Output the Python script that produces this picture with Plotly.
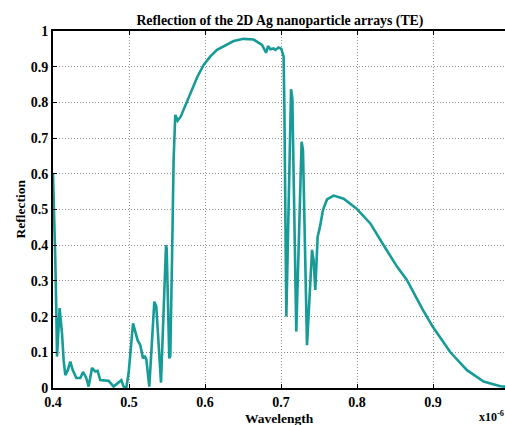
import plotly.graph_objects as go

# Wavelength in units of 1e-6 m
wavelength = [
    0.400, 0.4017, 0.4030, 0.4043, 0.4053, 0.4087, 0.4118, 0.4140, 0.4162, 0.4195,
    0.4228, 0.4260, 0.4307, 0.4360, 0.4395, 0.4438, 0.4469, 0.4513, 0.4557, 0.4587,
    0.4622, 0.4732, 0.4797, 0.4899, 0.4929, 0.4964, 0.4995, 0.5053, 0.5113, 0.5149,
    0.5184, 0.5206, 0.5228, 0.5267, 0.5333, 0.5359, 0.5421, 0.5487, 0.5496, 0.5530,
    0.5543, 0.5566, 0.5587, 0.5609, 0.5640, 0.5680, 0.5719, 0.5775, 0.5829, 0.5900,
    0.5982, 0.6070, 0.6158, 0.6270, 0.6377, 0.6508, 0.6640, 0.6750, 0.6803, 0.6829,
    0.6859, 0.6903, 0.6925, 0.6969, 0.7004, 0.7034, 0.7044, 0.7070, 0.7132, 0.7149,
    0.7201, 0.7271, 0.7289, 0.7342, 0.7408, 0.7429, 0.7451, 0.7482, 0.7508, 0.7553,
    0.7605, 0.7692, 0.7824, 0.7991, 0.8175, 0.8350, 0.8526, 0.8658, 0.8855, 0.8995,
    0.9228, 0.9447, 0.9666, 0.9885, 1.000,
]
reflection = [
    0.600, 0.490, 0.360, 0.220, 0.088, 0.224, 0.154, 0.078, 0.036, 0.050,
    0.074, 0.050, 0.028, 0.028, 0.045, 0.028, 0.004, 0.056, 0.046, 0.048,
    0.022, 0.020, 0.004, 0.022, 0.004, 0.000, 0.042, 0.181, 0.134, 0.120,
    0.083, 0.090, 0.080, 0.004, 0.242, 0.228, 0.015, 0.400, 0.390, 0.083,
    0.090, 0.360, 0.640, 0.765, 0.749, 0.760, 0.779, 0.808, 0.835, 0.872,
    0.905, 0.929, 0.947, 0.961, 0.972, 0.978, 0.976, 0.961, 0.939, 0.958,
    0.949, 0.951, 0.947, 0.954, 0.950, 0.928, 0.790, 0.200, 0.837, 0.811,
    0.158, 0.690, 0.667, 0.120, 0.387, 0.358, 0.275, 0.424, 0.447, 0.499,
    0.528, 0.539, 0.530, 0.503, 0.461, 0.400, 0.340, 0.302, 0.223, 0.172,
    0.100, 0.050, 0.018, 0.005, 0.003,
]

x_ticks = [0.4, 0.5, 0.6, 0.7, 0.8, 0.9]
x_tick_labels = ["0.4", "0.5", "0.6", "0.7", "0.8", "0.9"]
y_ticks = [0, 0.1, 0.2, 0.3, 0.4, 0.5, 0.6, 0.7, 0.8, 0.9, 1.0]
y_tick_labels = ["0", "0.1", "0.2", "0.3", "0.4", "0.5", "0.6", "0.7", "0.8", "0.9", "1"]

FONT = "Liberation Serif"
LINE_COLOR = "#179b97"

fig = go.Figure()
fig.add_trace(go.Scatter(
    x=wavelength, y=reflection, mode="lines",
    line=dict(color=LINE_COLOR, width=2.6),
    showlegend=False, hoverinfo="skip",
))

axis_common = dict(
    showgrid=True, gridcolor="#909090", griddash="1px,2px", gridwidth=1,
    showline=True, linecolor="black", linewidth=2,
    ticks="inside", ticklen=4, tickcolor="black", tickwidth=1,
    zeroline=False,
    tickfont=dict(family=FONT, size=14, color="black", weight="bold"),
)

fig.update_layout(
    width=505, height=425, autosize=False,
    margin=dict(l=53, r=0, t=31, b=37, pad=0),
    paper_bgcolor="white", plot_bgcolor="white",
    title=dict(
        text="Reflection of the 2D Ag nanoparticle arrays (TE)",
        x=0.502, xref="paper", xanchor="center",
        y=1 - 20 / 425, yref="container", yanchor="middle",
        font=dict(family=FONT, size=13.8, color="black", weight="bold"),
    ),
    xaxis=dict(
        range=[0.4, 0.9947], tickvals=x_ticks, ticktext=x_tick_labels,
        mirror="allticks", **axis_common,
    ),
    yaxis=dict(
        range=[0, 1], tickvals=y_ticks, ticktext=y_tick_labels,
        mirror=False, **axis_common,
    ),
    annotations=[
        dict(text="Wavelength", xref="paper", yref="paper",
             x=0.502, y=-(418 - 388) / 357, xanchor="center", yanchor="middle",
             showarrow=False,
             font=dict(family=FONT, size=13.5, color="black", weight="bold")),
        dict(text="Reflection", xref="paper", yref="paper",
             x=(20 - 53) / 452, y=0.5, xanchor="center", yanchor="middle",
             textangle=-90, showarrow=False,
             font=dict(family=FONT, size=13.5, color="black", weight="bold")),
        dict(text="x10<sup>-6</sup>", xref="paper", yref="paper",
             x=(477 - 53) / 452, y=-(416 - 388) / 357, xanchor="left", yanchor="middle",
             showarrow=False,
             font=dict(family=FONT, size=12, color="black", weight="bold")),
    ],
)

fig.write_html(
    "out.html",
    config={"displayModeBar": False, "staticPlot": True},
    post_script="document.body.style.margin='0';document.body.style.overflow='hidden';",
)
